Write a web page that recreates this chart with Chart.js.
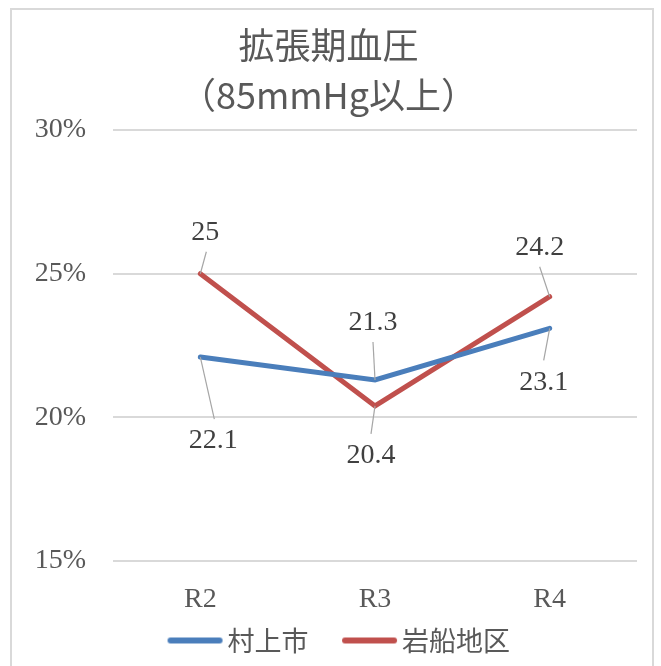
<!DOCTYPE html>
<html>
<head>
<meta charset="utf-8">
<script src="https://cdn.jsdelivr.net/npm/chart.js@4/dist/chart.umd.min.js"></script>
<style>
  body { margin: 0; background: #fff; }
  #frame { position: absolute; left: 10px; top: 8px; width: 640px; height: 700px; border: 2px solid #d9d9d9; }
  #wrap { position: absolute; left: 0; top: 0; width: 661px; height: 666px; }
</style>
</head>
<body>
<div id="frame"></div>
<div id="wrap"><canvas id="lineChart" width="661" height="666"></canvas></div>
<script>
const categories = ['R2', 'R3', 'R4'];
const murakami = [22.1, 21.3, 23.1];
const iwafune = [25, 20.4, 24.2];
const seriesNames = ['村上市', '岩船地区'];
const yTicks = [15, 20, 25, 30];

// where each value label sits, relative to its point
const labelOffsets = [
  [[13, 84], [-2, -57], [-6, 54]],
  [[5, -41], [-4, 50], [-10, -49]]
];

const gray = '#595959';
const serif = 'Liberation Serif';

// legend swatch: a short thick line with blank room on its left,
// so the items get spaced apart while the text sits close to the line
function legendLine(color) {
  const cv = document.createElement('canvas');
  cv.width = 120;
  cv.height = 10;
  const g = cv.getContext('2d');
  g.strokeStyle = color;
  g.lineWidth = 6;
  g.lineCap = 'round';
  g.beginPath();
  g.moveTo(50, 5);
  g.lineTo(99, 5);
  g.stroke();
  return cv;
}

const valueLabels = {
  id: 'valueLabels',
  afterDatasetsDraw(chart) {
    const c = chart.ctx;
    c.save();
    chart.data.datasets.forEach((ds, di) => {
      const meta = chart.getDatasetMeta(di);
      meta.data.forEach((pt, i) => {
        const [dx, dy] = labelOffsets[di][i];
        const lx = pt.x + dx, ly = pt.y + dy;
        const ey = ly + (dy < 0 ? 19 : -22);
        c.strokeStyle = '#a6a6a6';
        c.lineWidth = 1.2;
        c.beginPath();
        c.moveTo(pt.x, pt.y);
        c.lineTo(lx + (dx > 0 ? 1 : 0), ey);
        c.stroke();
        c.fillStyle = '#404040';
        c.font = '28px "' + serif + '"';
        c.textAlign = 'center';
        c.textBaseline = 'middle';
        c.fillText(String(ds.data[i]), lx, ly);
      });
    });
    c.restore();
  }
};

const ctx = document.getElementById('lineChart').getContext('2d');

let lineChart = new Chart(ctx, {
  type: 'line',
  data: {
    labels: categories,
    datasets: [{
      label: seriesNames[0],
      data: murakami,
      borderColor: '#4a7ebb',
      backgroundColor: '#4a7ebb',
      borderWidth: 5,
      borderCapStyle: 'round',
      pointRadius: 0,
      pointStyle: legendLine('#4a7ebb'),
      tension: 0
    }, {
      label: seriesNames[1],
      data: iwafune,
      borderColor: '#c0504d',
      backgroundColor: '#c0504d',
      borderWidth: 5,
      borderCapStyle: 'round',
      pointRadius: 0,
      pointStyle: legendLine('#c0504d'),
      tension: 0
    }]
  },
  options: {
    responsive: false,
    animation: false,
    devicePixelRatio: 1,
    layout: { padding: { left: 20, right: 24, top: 20, bottom: 2 } },
    scales: {
      x: {
        offset: true,
        grid: { display: false, drawTicks: false },
        border: { display: false },
        ticks: { color: gray, font: { family: serif, size: 28 }, padding: 22 },
        afterFit: s => { s.height = 53; }
      },
      y: {
        min: yTicks[0],
        max: yTicks[yTicks.length - 1],
        afterBuildTicks: s => { s.ticks = yTicks.map(v => ({ value: v })); },
        grid: { color: '#d9d9d9', lineWidth: 2, drawTicks: false },
        border: { display: false },
        ticks: {
          color: gray,
          font: { family: serif, size: 28 },
          padding: 27,
          callback: v => v + '%'
        },
        afterFit: s => { s.width = 93; }
      }
    },
    plugins: {
      title: {
        display: true,
        text: ['拡張期血圧', '（85mmHg以上）'],
        color: gray,
        font: { family: 'Noto Sans CJK JP', size: 36, weight: 'normal', lineHeight: 1.39 },
        padding: { top: 0, bottom: 10 }
      },
      legend: {
        position: 'bottom',
        labels: {
          usePointStyle: true,
          pointStyleWidth: 67,
          color: gray,
          font: { family: 'Noto Sans CJK JP', size: 27 },
          padding: 13
        }
      },
      tooltip: { enabled: false }
    }
  },
  plugins: [valueLabels]
});
</script>
</body>
</html>
